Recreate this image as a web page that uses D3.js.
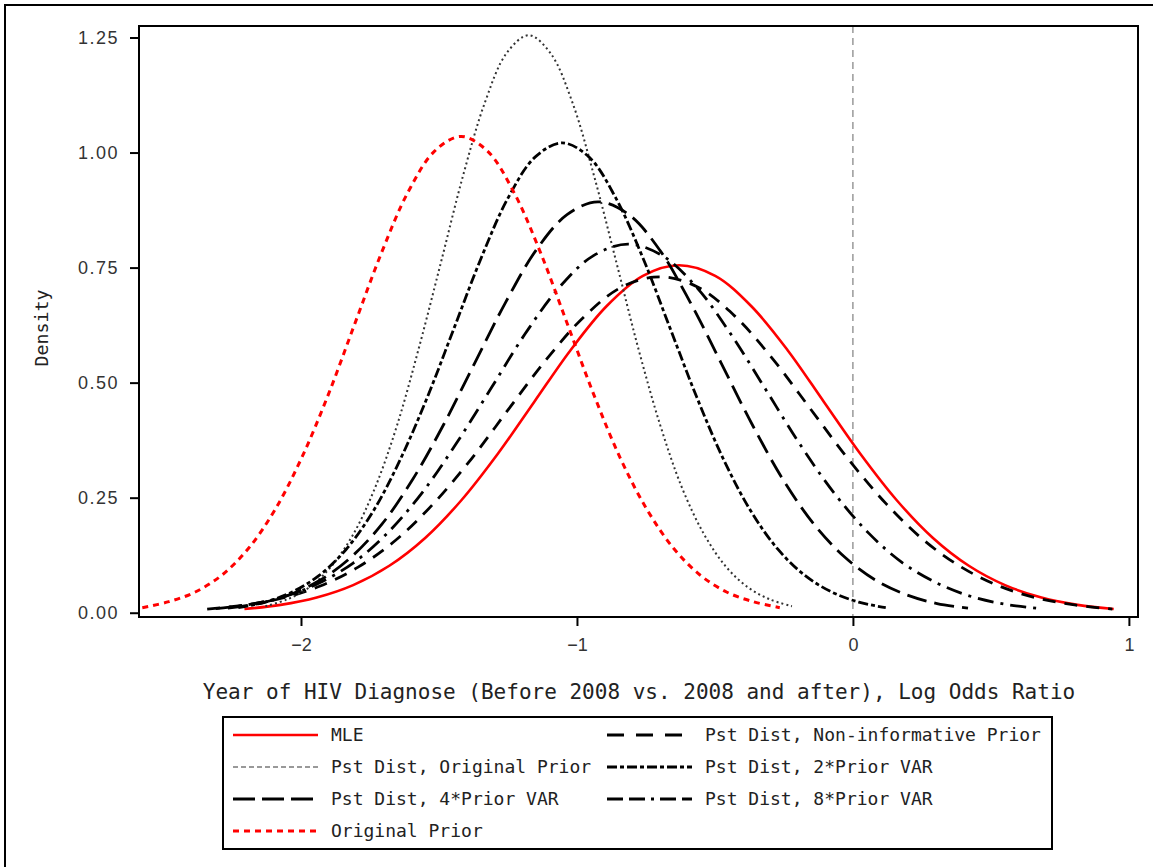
<!DOCTYPE html>
<html>
<head>
<meta charset="utf-8">
<script src="https://cdn.jsdelivr.net/npm/d3@7"></script>
<style>
  body { margin: 0; background: #fff; }
  svg { display: block; }
</style>
</head>
<body>
<svg id="canvas" width="1153" height="867"></svg>
<script>
// curve points (x = log odds ratio, y = density)
const mleX = [-2.205,-2.074,-1.943,-1.811,-1.680,-1.549,-1.418,-1.286,-1.155,-1.024,-0.893,-0.761,-0.630,-0.499,-0.368,-0.236,-0.105,0.026,0.158,0.289,0.420,0.551,0.683,0.814,0.945]
const mleY = [0.008,0.017,0.033,0.060,0.102,0.163,0.245,0.346,0.458,0.570,0.666,0.732,0.755,0.732,0.666,0.570,0.458,0.346,0.245,0.163,0.102,0.060,0.033,0.017,0.008]

const nonInfX = [-2.340,-2.203,-2.066,-1.930,-1.793,-1.656,-1.520,-1.383,-1.247,-1.110,-0.973,-0.837,-0.700,-0.563,-0.427,-0.290,-0.154,-0.017,0.120,0.256,0.393,0.530,0.666,0.803,0.940]
const nonInfY = [0.008,0.017,0.032,0.058,0.099,0.158,0.237,0.334,0.443,0.551,0.644,0.708,0.730,0.708,0.644,0.551,0.443,0.334,0.237,0.158,0.099,0.058,0.032,0.017,0.008]

const pstOrigX = [-2.129,-2.050,-1.970,-1.891,-1.811,-1.732,-1.652,-1.573,-1.493,-1.414,-1.334,-1.255,-1.175,-1.096,-1.016,-0.937,-0.857,-0.778,-0.698,-0.619,-0.539,-0.460,-0.380,-0.301,-0.221]
const pstOrigY = [0.014,0.029,0.055,0.100,0.170,0.271,0.407,0.575,0.761,0.947,1.108,1.216,1.255,1.216,1.108,0.947,0.761,0.575,0.407,0.271,0.170,0.100,0.055,0.029,0.014]

const var2X = [-2.227,-2.129,-2.032,-1.934,-1.836,-1.738,-1.641,-1.543,-1.445,-1.347,-1.250,-1.152,-1.054,-0.956,-0.859,-0.761,-0.663,-0.565,-0.468,-0.370,-0.272,-0.174,-0.077,0.021,0.119]
const var2Y = [0.011,0.023,0.045,0.081,0.138,0.221,0.332,0.467,0.619,0.771,0.901,0.990,1.021,0.990,0.901,0.771,0.619,0.467,0.332,0.221,0.138,0.081,0.045,0.023,0.011]

const var4X = [-2.265,-2.153,-2.042,-1.930,-1.818,-1.706,-1.595,-1.483,-1.371,-1.259,-1.148,-1.036,-0.924,-0.812,-0.700,-0.589,-0.477,-0.365,-0.254,-0.142,-0.030,0.081,0.194,0.305,0.417]
const var4Y = [0.010,0.020,0.039,0.071,0.121,0.193,0.290,0.409,0.542,0.674,0.788,0.865,0.893,0.865,0.788,0.674,0.542,0.409,0.290,0.193,0.121,0.071,0.039,0.020,0.010]

const var8X = [-2.309,-2.185,-2.060,-1.936,-1.811,-1.687,-1.562,-1.438,-1.313,-1.189,-1.064,-0.940,-0.815,-0.691,-0.566,-0.442,-0.317,-0.193,-0.068,0.057,0.181,0.306,0.430,0.555,0.679]
const var8Y = [0.009,0.018,0.035,0.064,0.108,0.173,0.260,0.367,0.486,0.605,0.707,0.776,0.801,0.776,0.707,0.605,0.486,0.367,0.260,0.173,0.108,0.064,0.035,0.018,0.009]

const priorX = [-2.575,-2.479,-2.383,-2.286,-2.190,-2.094,-1.998,-1.901,-1.805,-1.709,-1.613,-1.516,-1.420,-1.324,-1.228,-1.131,-1.035,-0.939,-0.843,-0.746,-0.650,-0.554,-0.458,-0.361,-0.265]
const priorY = [0.011,0.024,0.045,0.082,0.140,0.224,0.336,0.474,0.628,0.781,0.913,1.003,1.035,1.003,0.913,0.781,0.628,0.474,0.336,0.224,0.140,0.082,0.045,0.024,0.011]

const seriesNames = ['MLE', 'Pst Dist, Non-informative Prior', 'Pst Dist, Original Prior',
  'Pst Dist, 2*Prior VAR', 'Pst Dist, 4*Prior VAR', 'Pst Dist, 8*Prior VAR', 'Original Prior']
const xTicks = [-2, -1, 0, 1]
const yTicks = [0, 0.25, 0.5, 0.75, 1, 1.25]
const xTitle = 'Year of HIV Diagnose (Before 2008 vs. 2008 and after), Log Odds Ratio'
const yTitle = 'Density'

const zip = (xs, ys) => xs.map((x, i) => [x, ys[i]])
const styles = [
  {color: '#ff0000', width: 2.6, dash: null, key: '#ff0000', keyDash: null},
  {color: '#000', width: 2.8, dash: '13,9', key: '#000', keyDash: '17,12'},
  {color: '#333', width: 2, dash: '2,3', key: '#999', keyDash: '5,3'},
  {color: '#000', width: 2.8, dash: '10,3,4,3', key: '#000', keyDash: '10,3,4,3'},
  {color: '#000', width: 2.8, dash: '20,8', key: '#000', keyDash: '22,7'},
  {color: '#000', width: 2.8, dash: '16,7,3,7', key: '#000', keyDash: '16,6,16,6,3,6'},
  {color: '#ff0000', width: 3, dash: '6,5', key: '#ff0000', keyDash: '6,5'}
]
const series = seriesNames.map((name, i) => ({
  name: name,
  points: [zip(mleX, mleY), zip(nonInfX, nonInfY), zip(pstOrigX, pstOrigY),
    zip(var2X, var2Y), zip(var4X, var4Y), zip(var8X, var8Y), zip(priorX, priorY)][i],
  ...styles[i]
}))

const svg = d3.select('#canvas')
const plotL = 139, plotR = 1138, plotT = 26, plotB = 617

// outer frame (only top and left edges fall inside the picture)
svg.append('rect').attr('x', 5).attr('y', 5).attr('width', 1200).attr('height', 900)
  .attr('fill', 'none').attr('stroke', '#000').attr('stroke-width', 2)

const x = d3.scaleLinear().domain([-2.587, 1.033]).range([plotL, plotR])
const y = d3.scaleLinear().domain([-0.0093, 1.275]).range([plotB, plotT])

svg.append('clipPath').attr('id', 'clip').append('rect')
  .attr('x', plotL).attr('y', plotT).attr('width', plotR - plotL).attr('height', plotB - plotT)

// reference line at 0
svg.append('line')
  .attr('x1', x(0)).attr('x2', x(0)).attr('y1', plotT).attr('y2', plotB)
  .attr('stroke', '#666').attr('stroke-width', 1).attr('stroke-dasharray', '7,5')

const line = d3.line().x(d => x(d[0])).y(d => y(d[1])).curve(d3.curveCatmullRom)

svg.append('g').attr('clip-path', 'url(#clip)')
  .selectAll('path')
  .data(series)
  .enter()
  .append('path')
  .attr('d', d => line(d.points))
  .attr('fill', 'none')
  .attr('stroke', d => d.color)
  .attr('stroke-width', d => d.width)
  .attr('stroke-dasharray', d => d.dash)
  .attr('stroke-linecap', 'butt')

// axes
const xAxis = svg.append('g').attr('transform', 'translate(0,' + plotB + ')')
  .call(d3.axisBottom(x).tickValues(xTicks).tickSize(9).tickPadding(12).tickFormat(d3.format('d')))
const yAxis = svg.append('g').attr('transform', 'translate(' + plotL + ',0)')
  .call(d3.axisLeft(y).tickValues(yTicks).tickSize(9).tickPadding(11).tickFormat(d3.format('.2f')))
;[xAxis, yAxis].forEach(ax => {
  ax.select('.domain').remove()
  ax.selectAll('line').attr('stroke', '#000').attr('stroke-width', 2)
  ax.selectAll('text').attr('fill', '#333')
    .style('font-family', '"Liberation Sans", Arial, sans-serif').style('font-size', '18px')
})
yAxis.selectAll('text').style('letter-spacing', '1.5px')

svg.append('rect').attr('x', plotL).attr('y', plotT).attr('width', plotR - plotL).attr('height', plotB - plotT)
  .attr('fill', 'none').attr('stroke', '#000').attr('stroke-width', 2)

// titles
svg.append('text').text(xTitle)
  .attr('x', 639).attr('y', 699).attr('text-anchor', 'middle')
  .style('font-family', '"DejaVu Sans Mono", monospace').style('font-size', '21px').attr('fill', '#222')
svg.append('text').text(yTitle)
  .attr('transform', 'translate(48,328) rotate(-90)').attr('text-anchor', 'middle')
  .style('font-family', '"DejaVu Sans Mono", monospace').style('font-size', '18.3px').attr('fill', '#222')

// legend
const legend = svg.append('g')
legend.append('rect').attr('x', 223).attr('y', 717).attr('width', 829).attr('height', 132)
  .attr('fill', 'none').attr('stroke', '#000').attr('stroke-width', 2)
const legendPos = [[0, 0], [1, 0], [0, 1], [1, 1], [0, 2], [1, 2], [0, 3]]
const legendItem = legend.selectAll('g.item')
  .data(series)
  .enter()
  .append('g')
  .attr('class', 'item')
  .attr('transform', (d, i) => 'translate(' + (legendPos[i][0] ? 607 : 233) + ',' + (735 + legendPos[i][1] * 32) + ')')
legendItem.append('line')
  .attr('x1', 0).attr('x2', 85).attr('y1', 0).attr('y2', 0)
  .attr('stroke', d => d.key)
  .attr('stroke-width', d => d.width)
  .attr('stroke-dasharray', d => d.keyDash)
legendItem.append('text')
  .attr('x', 98).attr('y', 6)
  .text(d => d.name)
  .style('font-family', '"DejaVu Sans Mono", monospace').style('font-size', '18px').attr('fill', '#222')
</script>
</body>
</html>
